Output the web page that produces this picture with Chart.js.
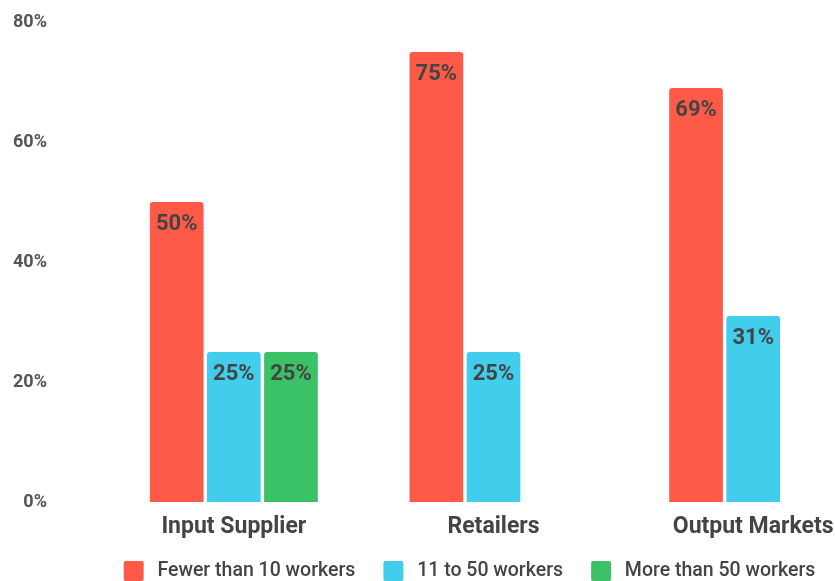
<!DOCTYPE html>
<html>
<head>
<meta charset="utf-8">
<script src="https://cdn.jsdelivr.net/npm/chart.js@4.4.1/dist/chart.umd.min.js"></script>
<style>
  html, body { margin: 0; padding: 0; background: #fff; overflow: hidden; }
  #wrap { width: 940px; height: 581px; position: relative; }
</style>
</head>
<body>
<div id="wrap"><canvas id="chart"></canvas></div>
<script>
var categories = ['Input Supplier', 'Retailers', 'Output Markets'];
var fewerThan10 = [50, 75, 69];
var from11to50 = [25, 25, 31];
var moreThan50 = [25, null, null];
var yTicks = [0, 20, 40, 60, 80];

var textColor = '#444444';

// writes the percentage near the top of each bar
var barLabels = {
    id: 'barLabels',
    afterDatasetsDraw: function (chart) {
        var ctx = chart.ctx;
        ctx.save();
        ctx.font = 'bold 22px Roboto';
        ctx.fillStyle = textColor;
        ctx.textAlign = 'center';
        ctx.textBaseline = 'middle';
        chart.data.datasets.forEach(function (ds, i) {
            chart.getDatasetMeta(i).data.forEach(function (bar, j) {
                var v = ds.data[j];
                if (v == null) return;
                ctx.fillText(v + '%', bar.x, bar.y + 22);
            });
        });
        ctx.restore();
    }
};

// move the legend row a little right and up from where the layout puts it
var legendShift = {
    id: 'legendShift',
    afterLayout: function (chart) {
        var lg = chart.legend;
        lg.left += 23;
        lg.right += 23;
        lg.top -= 11;
        lg.bottom -= 11;
    }
};

function barSet(label, data, color) {
    return {
        label: '\u2009' + label,
        data: data,
        backgroundColor: color,
        borderRadius: { topLeft: 3, topRight: 3 },
        borderSkipped: 'bottom',
        categoryPercentage: 0.66,
        barPercentage: 0.94
    };
}

var ctx = document.getElementById('chart').getContext('2d');
new Chart(ctx, {
    type: 'bar',
    data: {
        labels: categories,
        datasets: [
            barSet('Fewer than 10 workers', fewerThan10, '#ff5a47'),
            barSet('11 to 50 workers', from11to50, '#41cdeb'),
            barSet('More than 50 workers', moreThan50, '#3bc166')
        ]
    },
    options: {
        responsive: true,
        maintainAspectRatio: false,
        animation: false,
        layout: { padding: { left: 10, right: 57, top: 22, bottom: -21 } },
        plugins: {
            tooltip: { enabled: false },
            legend: {
                position: 'bottom',
                labels: {
                    boxWidth: 20,
                    boxHeight: 20,
                    useBorderRadius: true,
                    borderRadius: 2,
                    padding: 28,
                    color: textColor,
                    font: { family: 'Roboto', size: 19.5, weight: '500' }
                }
            }
        },
        scales: {
            x: {
                grid: { display: false, drawTicks: false },
                border: { display: false },
                afterFit: function (s) { s.height = 42; },
                ticks: {
                    color: textColor,
                    padding: 11,
                    font: { family: 'Roboto', size: 23, weight: 'bold' }
                }
            },
            y: {
                min: yTicks[0],
                max: yTicks[yTicks.length - 1],
                grid: { display: false, drawTicks: false },
                border: { display: false },
                afterFit: function (s) {
                    s.width = 94;
                    s.paddingTop = 0;
                    s.paddingBottom = 0;
                },
                afterBuildTicks: function (s) {
                    s.ticks = yTicks.map(function (v) { return { value: v }; });
                },
                ticks: {
                    color: '#555555',
                    padding: 57,
                    font: { family: 'Roboto', size: 18, weight: 'bold' },
                    callback: function (v) { return v + '%'; }
                }
            }
        }
    },
    plugins: [barLabels, legendShift]
});
</script>
</body>
</html>
